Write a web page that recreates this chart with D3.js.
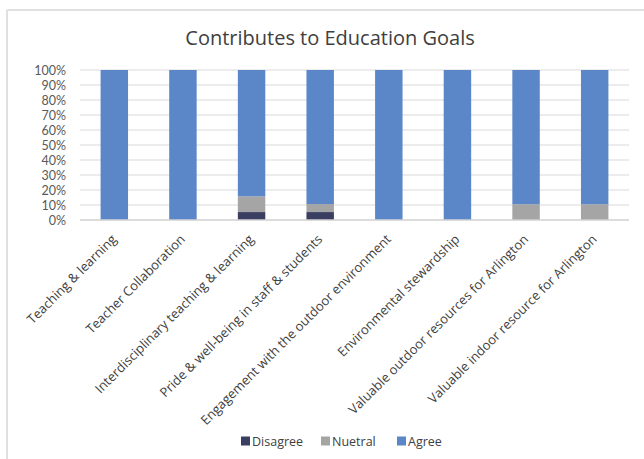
<!DOCTYPE html>
<html>
<head>
<meta charset="utf-8">
<script src="https://cdn.jsdelivr.net/npm/d3@7"></script>
<style>
  html, body { margin: 0; padding: 0; background: #fff; }
  svg { display: block; font-family: "Open Sans", "Noto Sans", sans-serif; }
</style>
</head>
<body>
<svg id="chart" width="644" height="459"></svg>
<script>
// Survey responses, percent of respondents per goal
const categories = [
  "Teaching & learning",
  "Teacher Collaboration",
  "Interdisciplinary teaching & learning",
  "Pride & well-being in staff & students",
  "Engagement with the outdoor environment",
  "Environmental stewardship",
  "Valuable outdoor resources for Arlington",
  "Valuable indoor resource for Arlington"
];
const seriesNames = ["Disagree", "Nuetral", "Agree"];
const disagree = [0, 0, 5.3, 5.3, 0, 0, 0, 0];
const nuetral  = [0, 0, 10.5, 5.3, 0, 0, 10.5, 10.5];
const agree    = [100, 100, 84.2, 89.4, 100, 100, 89.5, 89.5];
const yTicks = [0, 10, 20, 30, 40, 50, 60, 70, 80, 90, 100];
const colors = ["#3a3f62", "#a5a5a5", "#5b87c8"];

const svg = d3.select("#chart");

// outer frame (top and left edges visible)
svg.append("line").attr("x1", 7).attr("x2", 644).attr("y1", 10).attr("y2", 10)
  .attr("stroke", "#e0e0e0").attr("stroke-width", 2);
svg.append("line").attr("x1", 7).attr("x2", 7).attr("y1", 10).attr("y2", 459)
  .attr("stroke", "#e0e0e0").attr("stroke-width", 2);

const plot = { left: 80, right: 629, top: 70, bottom: 220 };

const x = d3.scaleBand().domain(categories)
  .range([plot.left, plot.right]).paddingInner(0.6).paddingOuter(0.3);
const y = d3.scaleLinear().domain([0, 100]).range([plot.bottom, plot.top]);

// title
svg.append("text")
  .attr("x", 330).attr("y", 45)
  .attr("text-anchor", "middle")
  .attr("font-size", 20)
  .attr("fill", "#404040")
  .text("Contributes to Education Goals");

// gridlines
svg.append("g").selectAll("line").data(yTicks.filter(t => t > 0)).join("line")
  .attr("x1", plot.left).attr("x2", plot.right)
  .attr("y1", d => y(d)).attr("y2", d => y(d))
  .attr("stroke", "#d9d9d9").attr("stroke-width", 1);

// y axis labels
const yAxis = d3.axisLeft(y).tickValues(yTicks).tickFormat(d => d + "%").tickSize(0).tickPadding(0);
const yg = svg.append("g").attr("transform", `translate(66,0)`).call(yAxis);
yg.select(".domain").remove();
yg.selectAll("text").attr("font-size", 12.5).attr("fill", "#595959")
  .attr("font-family", "Lato, sans-serif");

// stacked bars
const rows = categories.map((c, i) => ({ cat: c, Disagree: disagree[i], Nuetral: nuetral[i], Agree: agree[i] }));
const stack = d3.stack().keys(seriesNames)(rows);
svg.append("g").selectAll("g").data(stack).join("g")
  .attr("fill", (d, i) => colors[i])
  .selectAll("rect").data(d => d).join("rect")
  .attr("x", d => x(d.data.cat))
  .attr("width", x.bandwidth())
  .attr("y", d => y(Math.min(100, d[1])))
  .attr("height", d => Math.max(0, y(d[0]) - y(Math.min(100, d[1]))));

// baseline
svg.append("line").attr("x1", plot.left).attr("x2", plot.right)
  .attr("y1", y(0)).attr("y2", y(0))
  .attr("stroke", "#d0d0d0").attr("stroke-width", 1.5);

// x axis labels, rotated
const xAxis = d3.axisBottom(x).tickSize(0).tickPadding(0);
const xg = svg.append("g").attr("transform", `translate(0,${plot.bottom})`).call(xAxis);
xg.select(".domain").remove();
xg.selectAll("text")
  .attr("font-size", 13)
  .attr("fill", "#404040")
  .attr("font-family", "\"Open Sans\", sans-serif")
  .attr("text-anchor", "end")
  .attr("dy", null)
  .attr("y", 0)
  .attr("transform", "translate(3,20) rotate(-45)");

// legend
const legendX = [241, 321, 397];
const lg = svg.append("g").selectAll("g").data(seriesNames).join("g")
  .attr("transform", (d, i) => `translate(${legendX[i]},441)`);
lg.append("rect").attr("x", 0).attr("y", -4.5).attr("width", 9).attr("height", 9)
  .attr("fill", (d, i) => colors[i]);
lg.append("text").attr("x", 11).attr("y", 0).attr("dy", "0.36em")
  .attr("font-size", 12.5).attr("fill", "#404040").text(d => d);
</script>
</body>
</html>
